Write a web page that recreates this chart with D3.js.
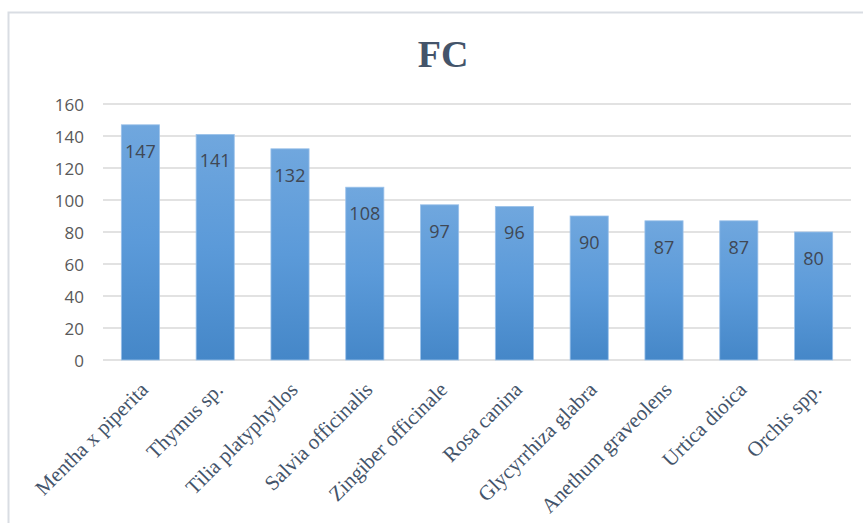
<!DOCTYPE html>
<html>
<head>
<meta charset="utf-8">
<script src="https://cdn.jsdelivr.net/npm/d3@7/dist/d3.min.js"></script>
<style>
  html, body { margin: 0; padding: 0; background: #fff; }
  svg { display: block; }
</style>
</head>
<body>
<svg id="chart" width="863" height="523"></svg>
<script>
// Plant species and their FC counts
const categories = [
  "Mentha x piperita", "Thymus sp.", "Tilia platyphyllos", "Salvia officinalis",
  "Zingiber officinale", "Rosa canina", "Glycyrrhiza glabra", "Anethum graveolens",
  "Urtica dioica", "Orchis spp."
];
const values = [147, 141, 132, 108, 97, 96, 90, 87, 87, 80];
const yTicks = [0, 20, 40, 60, 80, 100, 120, 140, 160];
const title = "FC";

const svg = d3.select("#chart");
const margin = { left: 103, right: 12, top: 104, bottom: 163 };

// Outer chart frame
svg.append("rect")
  .attr("x", 8.5).attr("y", 12.5)
  .attr("width", 900).attr("height", 540)
  .attr("fill", "#fff")
  .attr("stroke", "#d9dde3").attr("stroke-width", 2);

const defs = svg.append("defs");
const grad = defs.append("linearGradient")
  .attr("id", "barGrad").attr("x1", 0).attr("y1", 0).attr("x2", 0).attr("y2", 1);
grad.append("stop").attr("offset", "0%").attr("stop-color", "#70a7de");
grad.append("stop").attr("offset", "50%").attr("stop-color", "#5b9ad9");
grad.append("stop").attr("offset", "100%").attr("stop-color", "#4587c8");

const x = d3.scaleBand()
  .domain(categories)
  .range([margin.left, 851])
  .paddingInner(0.49).paddingOuter(0.245);

const y = d3.scaleLinear()
  .domain([0, 160])
  .range([360, 104]);

// Horizontal gridlines
svg.append("g").selectAll("line")
  .data(yTicks)
  .join("line")
  .attr("x1", margin.left).attr("x2", 851)
  .attr("y1", d => y(d)).attr("y2", d => y(d))
  .attr("stroke", "#d9d9d9").attr("stroke-width", 1.5);

// Y axis labels
const yAxis = d3.axisLeft(y).tickValues(yTicks).tickSize(0).tickPadding(0);
const yg = svg.append("g").attr("transform", `translate(84,0)`).call(yAxis);
yg.select(".domain").remove();
yg.selectAll("text")
  .attr("font-family", "'Open Sans', 'Liberation Sans', sans-serif")
  .attr("font-size", 17)
  .attr("fill", "#595959")
  .attr("dy", "0.36em");

// Bars
svg.append("g").selectAll("rect")
  .data(values)
  .join("rect")
  .attr("x", (d, i) => x(categories[i]))
  .attr("y", d => y(d))
  .attr("width", x.bandwidth())
  .attr("height", d => y(0) - y(d))
  .attr("fill", "url(#barGrad)")
  .attr("stroke", "#9cc2ea").attr("stroke-width", 0.8);

// Value labels inside bar tops
svg.append("g").selectAll("text")
  .data(values)
  .join("text")
  .attr("x", (d, i) => x(categories[i]) + x.bandwidth() / 2)
  .attr("y", d => y(d) + 33)
  .attr("text-anchor", "middle")
  .attr("font-family", "'Open Sans', 'Liberation Sans', sans-serif")
  .attr("font-size", 18)
  .attr("fill", "#404855")
  .text(d => d);

// Category labels, rotated
const xAxis = d3.axisBottom(x).tickSize(0).tickPadding(0);
const xg = svg.append("g").attr("transform", `translate(0,${y(0)})`).call(xAxis);
xg.select(".domain").remove();
xg.selectAll("text")
  .attr("font-family", "'Liberation Serif', 'Times New Roman', serif")
  .attr("font-size", 21)
  .attr("fill", "#44546a")
  .attr("text-anchor", "end")
  .attr("dy", 0)
  .attr("transform", "translate(9,31) rotate(-45)");

// Title
svg.append("text")
  .attr("x", 443).attr("y", 67)
  .attr("text-anchor", "middle")
  .attr("font-family", "'Liberation Serif', 'Times New Roman', serif")
  .attr("font-weight", "bold")
  .attr("font-size", 38)
  .attr("fill", "#44546a")
  .text(title);
</script>
</body>
</html>
